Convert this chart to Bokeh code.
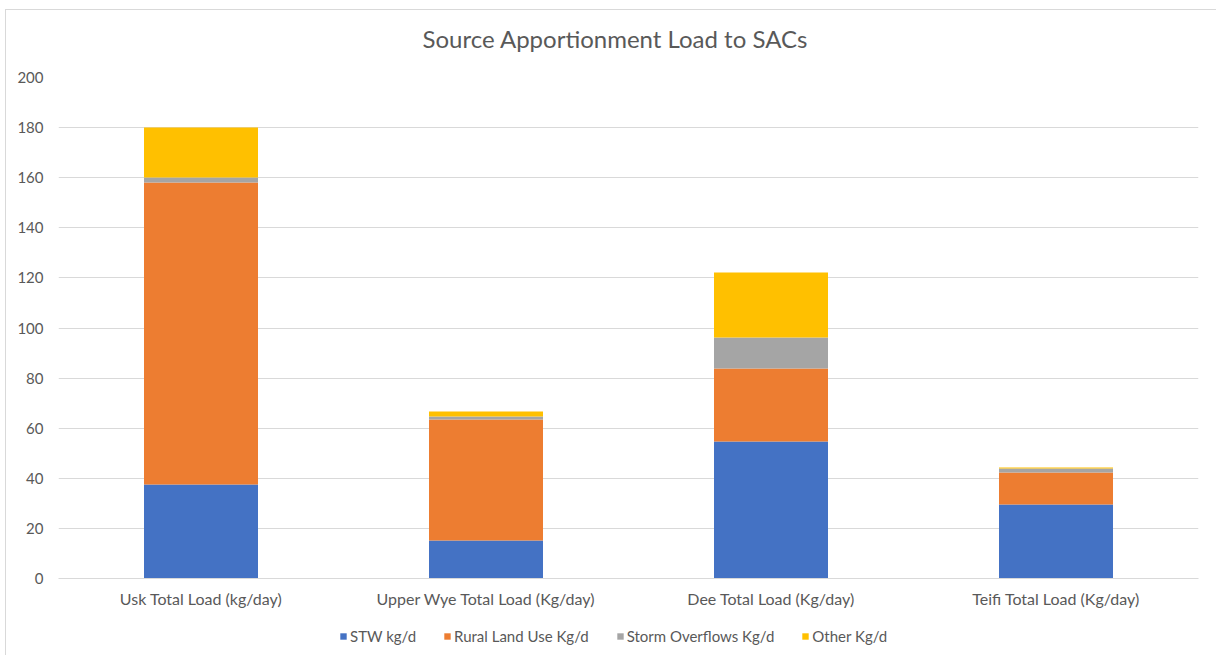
from bokeh.plotting import figure
from bokeh.layouts import column
from bokeh.models import FactorRange, Legend, LegendItem, SingleIntervalTicker, Title, Range1d
from bokeh.embed import file_html
from bokeh.resources import INLINE

categories = ["Usk Total Load (kg/day)", "Upper Wye Total Load (Kg/day)",
              "Dee Total Load (Kg/day)", "Teifi Total Load (Kg/day)"]
stw = [37.5, 15.2, 54.7, 29.5]
rural = [120.6, 48.3, 29.1, 12.8]
storm = [2.0, 1.2, 12.4, 1.6]
other = [19.9, 2.0, 26.0, 0.4]
series = ["STW kg/d", "Rural Land Use Kg/d", "Storm Overflows Kg/d", "Other Kg/d"]
colors = ["#4472C4", "#ED7D31", "#A5A5A5", "#FFC000"]

FONT = "Lato"
data = {"cat": categories, "s0": stw, "s1": rural, "s2": storm, "s3": other}

p = figure(x_range=FactorRange(*categories, range_padding=0), y_range=(0, 200),
           frame_width=1140, frame_height=501, output_backend="svg", toolbar_location=None,
           title="Source Apportionment Load to SACs",
           min_border_left=52, min_border_right=18, min_border_top=10, min_border_bottom=37)

rs = p.vbar_stack(["s0", "s1", "s2", "s3"], x="cat", width=0.4, source=data,
                  color=colors, line_color=None)

p.title.align = "left"
p.title.offset = 364
p.title.text_font = FONT
p.title.text_font_size = "24px"
p.title.text_font_style = "normal"
p.title.text_color = "#595959"
p.title.standoff = 22
p.add_layout(Title(text=" ", text_font_size="11.5px", standoff=0), "above")

p.outline_line_color = None
p.xgrid.grid_line_color = None
p.ygrid.grid_line_color = "#d9d9d9"
p.ygrid.grid_line_width = 1

p.yaxis.ticker = SingleIntervalTicker(interval=20)
p.yaxis.axis_line_color = None
p.yaxis.major_tick_line_color = None
p.yaxis.minor_tick_line_color = None
p.yaxis.major_label_text_font = FONT
p.yaxis.major_label_text_font_size = "15px"
p.yaxis.major_label_text_color = "#595959"
p.yaxis.major_label_standoff = 9

p.xaxis.axis_line_color = "#d9d9d9"
p.xaxis.major_tick_line_color = None
p.xaxis.minor_tick_line_color = None
p.xaxis.major_label_text_font = FONT
p.xaxis.major_label_text_font_size = "16px"
p.xaxis.major_label_text_color = "#595959"
p.xaxis.major_label_standoff = 4

# legend strip below the chart (swatch glyphs sit outside the strip's visible range)
lf = figure(width=1210, height=40, output_backend="svg", toolbar_location=None,
            x_range=Range1d(0, 1), y_range=Range1d(0, 1),
            min_border_left=0, min_border_right=0, min_border_top=0, min_border_bottom=0)
lf.axis.visible = False
lf.grid.visible = False
lf.outline_line_color = None
lrs = [lf.vbar(x=[-10], top=[-10], width=0.1, color=c, line_color=None) for c in colors]
legend = Legend(items=[LegendItem(label=s, renderers=[r]) for s, r in zip(series, lrs)],
                orientation="horizontal", location=(281, 10),
                label_text_font=FONT, label_text_font_size="15px",
                label_text_color="#595959", glyph_width=8, glyph_height=8,
                spacing=27, label_standoff=3, border_line_color=None,
                background_fill_alpha=0, padding=0, margin=0)
lf.add_layout(legend, "center")

layout = column(p, lf, spacing=0,
                styles={"margin-left": "5px", "margin-top": "9px",
                        "border-left": "1px solid #d9d9d9", "border-top": "1px solid #d9d9d9"})

open("out.html", "w").write(file_html(layout, INLINE))
